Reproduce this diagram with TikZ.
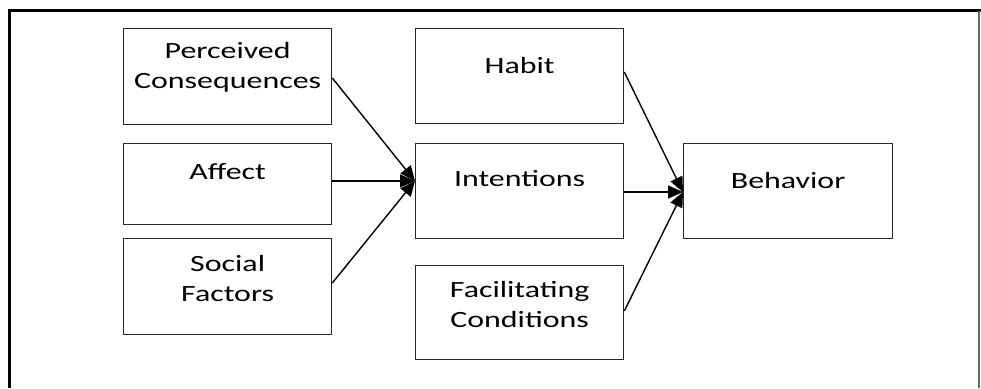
\documentclass[tikz,border=0pt]{standalone}
\usepackage{fontspec}
\setmainfont{Carlito}[FakeStretch=1.37]
\usetikzlibrary{arrows.meta,calc}
\begin{document}
\begin{tikzpicture}[x=1pt,y=-1pt,
  boxnode/.style={draw=black!85, line width=1.3pt, rectangle, inner sep=0pt, anchor=north west},
  lbl/.style={font=\fontsize{23.3}{30}\selectfont, align=center, inner sep=0pt, text=black},
  arr/.style={draw=black, line width=1.4pt, -{Triangle[length=15pt,width=13pt]}},
  frame/.style={draw=black, line width=3pt}]
\useasboundingbox (0,0) rectangle (981,388);
% outer frame
\draw[frame, line width=2.7pt] (8,10.7) -- (981,10.7);
\draw[frame, line width=3.5pt] (9.3,9.5) -- (9.3,388);
\draw[draw=black!60, line width=1.3pt] (979,11) -- (979,388);
% boxes
\node[boxnode, minimum width=208pt, minimum height=96pt] (pc) at (123,28) {};
\node[boxnode, minimum width=208pt, minimum height=81pt] (af) at (123,143) {};
\node[boxnode, minimum width=208pt, minimum height=96pt] (sf) at (123,238) {};
\node[boxnode, minimum width=208pt, minimum height=95pt] (hb) at (415,28) {};
\node[boxnode, minimum width=208pt, minimum height=95pt] (in) at (415,143) {};
\node[boxnode, minimum width=208pt, minimum height=94pt] (fc) at (415,265) {};
\node[boxnode, minimum width=209pt, minimum height=95pt] (bh) at (683,143) {};
% labels
\node[lbl] (pct) at ($(pc.north)+(0,39)$) {Perceived\\Consequences};
\node[lbl] (aft) at ($(af.north)+(0,29)$) {Affect};
\node[lbl] (sft) at ($(sf.north)+(0,40)$) {Social\\Factors};
\node[lbl] (hbt) at ($(hb.north)+(0,37)$) {Habit};
\node[lbl] (int) at ($(in.north)+(0,36)$) {Intentions};
\node[lbl] (fct) at ($(fc.north)+(0,39)$) {Facilitating\\Conditions};
\node[lbl] (bht) at ($(bh.north)+(0,37)$) {Behavior};
% connector points
\coordinate (inin) at ($(in.north west)+(0,38)$);
\coordinate (bhin) at ($(bh.north west)+(0,49)$);
% connectors
\draw[arr] ($(pc.north east)+(0,50)$) -- (inin);
\draw[arr] ($(af.north east)+(0,38)$) -- (inin);
\draw[arr] ($(sf.north east)+(0,45)$) -- (inin);
\draw[arr] ($(hb.north east)+(0,44)$) -- (bhin);
\draw[arr] ($(in.north east)+(0,49)$) -- (bhin);
\draw[arr] ($(fc.north east)+(0,46)$) -- (bhin);
\end{tikzpicture}
\end{document}
